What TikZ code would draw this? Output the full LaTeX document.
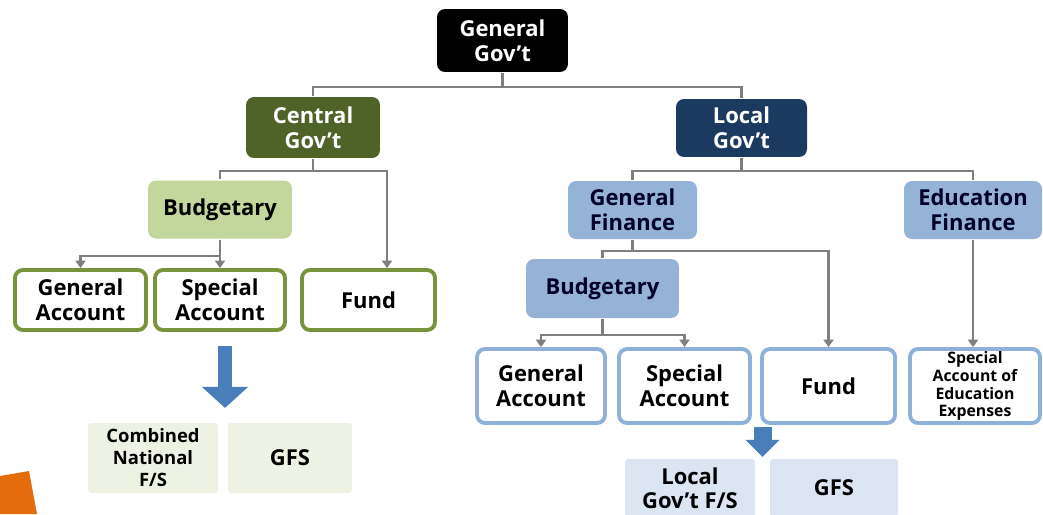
\documentclass[tikz,border=0pt]{standalone}
\usepackage{fontspec}
\setmainfont{Open Sans}
\usetikzlibrary{arrows.meta}

\definecolor{cgreen}{HTML}{4F6228}
\definecolor{lightgreen}{HTML}{C3D69B}
\definecolor{rimgreen}{HTML}{77933C}
\definecolor{palegreen}{HTML}{EDF2E2}
\definecolor{lnavy}{HTML}{1B3A5F}
\definecolor{lblue}{HTML}{95B3D7}
\definecolor{rimblue}{HTML}{8EB1DA}
\definecolor{paleblue}{HTML}{DCE6F2}
\definecolor{linegray}{HTML}{7F7F7F}
\definecolor{arrowblue}{HTML}{4A7EBB}
\definecolor{noteorange}{HTML}{E46C0A}

\begin{document}
\begin{tikzpicture}[x = 0.02cm, y = -0.02cm, % one unit = one pixel
                > = {Triangle[width = 0.2cm, length = 0.15cm]}, % arrow head style
                line width = 1.4pt % line style
            ]

            \tikzstyle{every node}=[rounded corners = 0.16cm, align = center,
            inner sep = 1pt, font = \bfseries\fontsize{12.5}{14.5}\selectfont]
            \tikzstyle{gov}=[text = white, minimum width = 2.68cm, minimum height = 1.22cm]
            \tikzstyle{part}=[text = black, minimum height = 1.16cm]
            \tikzstyle{acc}=[draw, fill = white, line width = 2.2pt, minimum height = 1.2cm]
            \tikzstyle{fs}=[rounded corners = 0.06cm, minimum height = 1.4cm]
            \tikzstyle{link}=[draw = linegray]

            \useasboundingbox[fill = white] (0,0) rectangle (1043,514);

            % top levels
            \node[gov, fill = black, minimum width = 2.62cm, minimum height = 1.26cm] (gg)
            at (502.5,40.5) {General\\Gov’t};
            \node[gov, fill = cgreen] (cg) at (313,127.5) {Central\\Gov’t};
            \node[gov, fill = lnavy, minimum width = 2.62cm, minimum height = 1.16cm] (lg)
            at (741.5,128) {Local\\Gov’t};

            % central side
            \node[part, fill = lightgreen, minimum width = 2.88cm] (cbud) at (220,209.5) {Budgetary};
            \node[acc, draw = rimgreen, minimum width = 2.62cm] (cga) at (80.5,300) {General\\Account};
            \node[acc, draw = rimgreen, minimum width = 2.6cm] (csa) at (220,300) {Special\\Account};
            \node[acc, draw = rimgreen, minimum width = 2.66cm] (cfund) at (368.5,300) {Fund};
            \node[fs, fill = palegreen, minimum width = 2.6cm,
            font = \bfseries\fontsize{10.5}{12.5}\selectfont] (cfs) at (153,458) {Combined\\National\\F/S};
            \node[fs, fill = palegreen, minimum width = 2.48cm] (cgfs) at (290,458) {GFS};

            % local side
            \node[part, fill = lblue, text = black!85!blue, minimum width = 2.58cm] (lgf)
            at (632.5,210) {General\\Finance};
            \node[part, fill = lblue, text = black!85!blue, minimum width = 2.76cm] (lef)
            at (973,210) {Education\\Finance};
            \node[part, fill = lblue, text = black!85!blue, minimum width = 3.06cm,
            minimum height = 1.18cm] (lbud) at (602.5,288.5) {Budgetary};
            \node[acc, draw = rimblue, minimum width = 2.56cm, minimum height = 1.48cm] (lga)
            at (541,386) {General\\Account};
            \node[acc, draw = rimblue, minimum width = 2.62cm, minimum height = 1.48cm] (lsa)
            at (684.5,386) {Special\\Account};
            \node[acc, draw = rimblue, minimum width = 2.66cm, minimum height = 1.48cm] (lfund)
            at (828.5,386) {Fund};
            \node[acc, draw = rimblue, minimum width = 2.6cm, minimum height = 1.48cm,
            font = \bfseries\fontsize{9}{10.2}\selectfont] (lsaee)
            at (975,386) {Special\\Account of\\Education\\Expenses};
            \node[fs, fill = paleblue, minimum width = 2.6cm, minimum height = 1.16cm,
            font = \bfseries\fontsize{12.5}{13.5}\selectfont] (lfs)
            at (690,488) {Local\\Gov’t F/S};
            \node[fs, fill = paleblue, minimum width = 2.56cm, minimum height = 1.16cm] (lgfs)
            at (834,488) {GFS};

            % corner of a note
            \fill[noteorange] (0,476) -- (29,471) -- (37,514) -- (0,514) -- cycle;

            \draw[link] (gg.south) -- ++(0,14) -| (cg.north);
            \draw[link] (gg.south) -- ++(0,14) -| (lg.north);
            \draw[link] (cg.south) -- ++(0,12) -| (cbud.north);
            \draw[link, ->] (cg.south) -- ++(0,12) -| ([xshift = 0.37cm]cfund.north);
            \draw[link, ->] (cbud.south) -- ++(0,16) -| (cga.north);
            \draw[link, ->] (cbud.south) -- ++(0,16) -| (csa.north);
            \draw[link] (lg.south) -- ++(0,13) -| (lgf.north);
            \draw[link] (lg.south) -- ++(0,13) -| (lef.north);
            \draw[link] (lgf.south) -- ++(0,11) -| (lbud.north);
            \draw[link, ->] (lgf.south) -- ++(0,11) -| (lfund.north);
            \draw[link, ->] (lbud.south) -- ++(0,15.5) -| (lga.north);
            \draw[link, ->] (lbud.south) -- ++(0,15.5) -| (lsa.north);
            \draw[link, ->] (lef.south) -- (lef.south |- lsaee.north);

            % big arrows
            \draw[arrowblue, line width = 0.28cm, -{Triangle[width = 0.9cm, length = 0.42cm]}]
            (csa.south) ++(5,14) -- ++(0,62);
            \draw[arrowblue, line width = 0.36cm, -{Triangle[width = 0.66cm, length = 0.34cm]}]
            (lsa.south) ++(78,2) -- ++(0,30);

        \end{tikzpicture}
\end{document}
